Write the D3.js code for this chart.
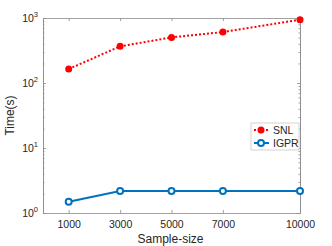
<!DOCTYPE html>
<html>
<head>
<meta charset="utf-8">
<script src="https://cdn.jsdelivr.net/npm/d3@7"></script>
<style>
body { margin: 0; background: #fff; }
text { font-family: "Liberation Sans", Arial, sans-serif; fill: #262626; }
</style>
</head>
<body>
<script>
var w = 332;
var h = 246;

var sizes = [1000, 3000, 5000, 7000, 10000];
var snl = [164, 366, 503, 608, 942];
var igpr = [1.49, 2.18, 2.18, 2.18, 2.18];
var xTicks = [1000, 3000, 5000, 7000, 10000];
var yTicks = [1, 10, 100, 1000];

// plot box (note: "top" is a reserved window global, so use pTop)
var pLeft = 43, pRight = 300, pTop = 18, pBottom = 213;

var svg = d3.select("body")
    .append("svg")
    .attr("width", w)
    .attr("height", h);

var x = d3.scaleLinear().domain([0, 10000]).range([pLeft, pRight]);
var y = d3.scaleLog().domain([1, 1000]).range([pBottom, pTop]);

var minor = [];
for (var e = 0; e < 3; e++) {
    for (var k = 2; k <= 9; k++) minor.push(k * Math.pow(10, e));
}

var axisCol = "#8c8c8c";

// axes, ticks pointing in
svg.append("g").attr("transform", "translate(0," + pBottom + ")")
    .call(d3.axisBottom(x).tickValues(xTicks).tickSizeInner(-3).tickSizeOuter(0)
        .tickPadding(8).tickFormat(d3.format("d")));
svg.append("g").attr("transform", "translate(0," + pTop + ")")
    .call(d3.axisTop(x).tickValues(xTicks).tickSizeInner(-3).tickSizeOuter(0).tickFormat(""));
svg.append("g").attr("transform", "translate(" + pLeft + ",0)")
    .call(d3.axisLeft(y).tickValues(yTicks).tickSizeInner(-3).tickSizeOuter(0).tickFormat(""));
svg.append("g").attr("transform", "translate(" + pRight + ",0)")
    .call(d3.axisRight(y).tickValues(yTicks).tickSizeInner(-3).tickSizeOuter(0).tickFormat(""));
svg.append("g").attr("transform", "translate(" + pLeft + ",0)")
    .call(d3.axisLeft(y).tickValues(minor).tickSizeInner(-1.5).tickSizeOuter(0).tickFormat(""));
svg.append("g").attr("transform", "translate(" + pRight + ",0)")
    .call(d3.axisRight(y).tickValues(minor).tickSizeInner(-1.5).tickSizeOuter(0).tickFormat(""));

svg.selectAll(".domain, .tick line").attr("stroke", axisCol).attr("stroke-width", 0.8);
svg.selectAll(".tick text").attr("font-size", 10.5).style("fill", "#262626");

// y tick labels with superscripts
yTicks.forEach(function(v) {
    var t = svg.append("text")
        .attr("x", pLeft - 5)
        .attr("y", y(v) + 4)
        .attr("text-anchor", "end")
        .attr("font-size", 10.5);
    t.append("tspan").text("10");
    t.append("tspan").attr("dy", -5).attr("font-size", 7.5).text(Math.round(Math.log10(v)));
});

svg.append("text")
    .attr("x", (pLeft + pRight) / 2 - 1)
    .attr("y", 243)
    .attr("text-anchor", "middle")
    .attr("font-size", 12)
    .text("Sample-size");

svg.append("text")
    .attr("transform", "translate(14," + ((pTop + pBottom) / 2) + ") rotate(-90)")
    .attr("text-anchor", "middle")
    .attr("font-size", 12)
    .text("Time(s)");

var red = "#ff0000", blue = "#0072bd";

var line = d3.line()
    .x(function(d, i) { return x(sizes[i]); })
    .y(function(d) { return y(d); });

svg.append("path").datum(snl)
    .attr("d", line)
    .attr("fill", "none")
    .attr("stroke", red)
    .attr("stroke-width", 2)
    .attr("stroke-dasharray", "2,2");
svg.selectAll(".snl").data(snl).enter().append("circle")
    .attr("class", "snl")
    .attr("cx", function(d, i) { return x(sizes[i]); })
    .attr("cy", function(d) { return y(d); })
    .attr("r", 3.5)
    .attr("fill", red);

svg.append("path").datum(igpr)
    .attr("d", line)
    .attr("fill", "none")
    .attr("stroke", blue)
    .attr("stroke-width", 2);
svg.selectAll(".igpr").data(igpr).enter().append("circle")
    .attr("class", "igpr")
    .attr("cx", function(d, i) { return x(sizes[i]); })
    .attr("cy", function(d) { return y(d); })
    .attr("r", 3)
    .attr("fill", "#fff")
    .attr("stroke", blue)
    .attr("stroke-width", 2);

// legend
var lg = svg.append("g").attr("transform", "translate(251,123)");
lg.append("rect").attr("width", 48).attr("height", 27)
    .attr("fill", "#fff").attr("stroke", "#c8c8c8").attr("stroke-width", 0.8);
lg.append("line").attr("x1", 3).attr("x2", 18).attr("y1", 7).attr("y2", 7)
    .attr("stroke", red).attr("stroke-width", 2).attr("stroke-dasharray", "2,2");
lg.append("circle").attr("cx", 10).attr("cy", 7).attr("r", 3.5).attr("fill", red);
lg.append("text").attr("x", 22).attr("y", 10.5).attr("font-size", 10.5).text("SNL");
lg.append("line").attr("x1", 3).attr("x2", 18).attr("y1", 20).attr("y2", 20)
    .attr("stroke", blue).attr("stroke-width", 2);
lg.append("circle").attr("cx", 10).attr("cy", 20).attr("r", 3).attr("fill", "#fff")
    .attr("stroke", blue).attr("stroke-width", 2);
lg.append("text").attr("x", 22).attr("y", 24).attr("font-size", 10.5).text("IGPR");
</script>
</body>
</html>
